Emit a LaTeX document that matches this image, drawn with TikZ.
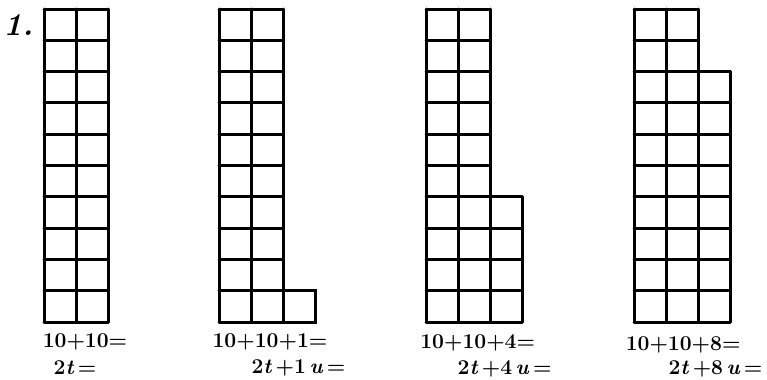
\documentclass[tikz,border=0pt]{standalone}
\usepackage{tikz}

\tikzset{gridline/.style={line width=1.7pt, line cap=round},
  sumtext/.style={font=\fontsize{12}{14}\selectfont\bfseries, inner sep=0pt}}

\begin{document}
\begin{tikzpicture}[x=0.64cm,y=0.626cm]
    \useasboundingbox (-1.375,-1.82) rectangle (22.59,10.29);
    \node[font=\fontsize{18}{20}\selectfont\bfseries\itshape, inner sep=0pt] (num) at (-0.8,9.5) {1.};

    % 10+10
    \foreach \y in {0,...,10} \draw[gridline] (0,\y)--(2,\y);
    \draw[gridline] (0,0)--(0,10);
    \draw[gridline] (1,0)--(1,10);
    \draw[gridline] (2,0)--(2,10);
    \node[sumtext] (sumA) at (1.28,-0.64) {10+10=};
    \node[sumtext] (tensA) at (0.97,-1.47) {2\textit{t}\,=};

    % 10+10+1
    \foreach \y in {0,...,10} \draw[gridline] (0+5.47,\y)--(2+5.47,\y);
    \draw[gridline] (0+5.47,0)--(0+5.47,10);
    \draw[gridline] (1+5.47,0)--(1+5.47,10);
    \draw[gridline] (2+5.47,0)--(2+5.47,10);
    \draw[gridline] (2+5.47,0)--(3+5.47,0)--(3+5.47,1)--(2+5.47,1);
    \node[sumtext] (sumB) at (7.06,-0.64) {10+10+1=};
    \node[sumtext] (tensB) at (7.95,-1.47) {2\textit{t}\,+1\,\textit{u}\,=};

    % 10+10+4
    \foreach \y in {0,...,10} \draw[gridline] (0+11.94,\y)--(2+11.94,\y);
    \draw[gridline] (0+11.94,0)--(0+11.94,10);
    \draw[gridline] (1+11.94,0)--(1+11.94,10);
    \draw[gridline] (2+11.94,0)--(2+11.94,10);
    \foreach \y in {0,...,4} \draw[gridline] (2+11.94,\y)--(3+11.94,\y);
    \draw[gridline] (3+11.94,0)--(3+11.94,4);
    \node[sumtext] (sumC) at (13.55,-0.67) {10+10+4=};
    \node[sumtext] (tensC) at (14.39,-1.5) {2\textit{t}\,+4\,\textit{u}\,=};

    % 10+10+8
    \foreach \y in {0,...,10} \draw[gridline] (0+18.44,\y)--(2+18.44,\y);
    \draw[gridline] (0+18.44,0)--(0+18.44,10);
    \draw[gridline] (1+18.44,0)--(1+18.44,10);
    \draw[gridline] (2+18.44,0)--(2+18.44,10);
    \foreach \y in {0,...,8} \draw[gridline] (2+18.44,\y)--(3+18.44,\y);
    \draw[gridline] (3+18.44,0)--(3+18.44,8);
    \node[sumtext] (sumD) at (19.97,-0.73) {10+10+8=};
    \node[sumtext] (tensD) at (20.98,-1.5) {2\textit{t}\,+8\,\textit{u}\,=};
\end{tikzpicture}
\end{document}
